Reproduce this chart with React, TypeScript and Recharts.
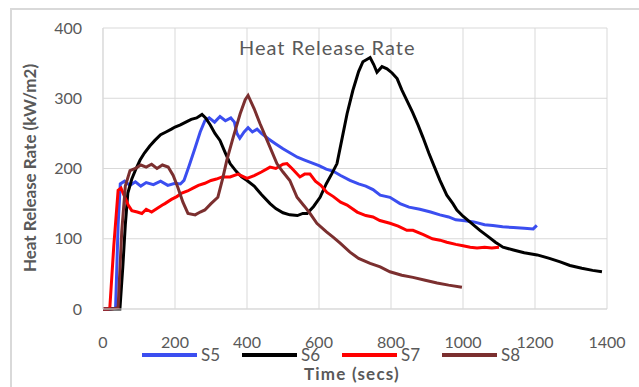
import React from "react";
import { LineChart, Line, XAxis, YAxis, CartesianGrid } from "recharts";

type P = { t: number; v: number };
const mk = (a: number[][]): P[] => a.map(([t, v]) => ({ t, v }));

const xTicks = [0, 200, 400, 600, 800, 1000, 1200, 1400];
const yTicks = [0, 100, 200, 300, 400];
const seriesNames = ["S5", "S6", "S7", "S8"];
const seriesColors = ["#3b4ef0", "#000000", "#ff0000", "#7b2f2f"];

const S5 = mk([[0,0],[20,0],[35,2],[42,120],[48,178],[60,182],[75,176],[90,181],[105,175],[120,180],[140,177],[160,182],[180,176],[200,179],[215,178],[225,183],[240,205],[255,228],[270,252],[283,268],[295,272],[310,266],[325,274],[340,268],[355,272],[365,266],[372,250],[380,243],[392,252],[403,258],[415,252],[428,256],[440,250],[460,242],[480,235],[500,228],[520,222],[540,216],[560,212],[580,208],[600,204],[620,199],[640,196],[660,190],[686,183],[710,178],[730,175],[750,170],[770,162],[797,159],[825,150],[850,145],[880,142],[910,138],[936,134],[960,131],[980,127],[1000,126],[1030,124],[1060,120],[1083,119],[1110,117],[1140,116],[1170,115],[1195,114],[1205,119]]);

const S6 = mk([[0,0],[30,0],[47,0],[55,60],[62,120],[69,165],[80,185],[92,200],[103,212],[115,222],[130,232],[144,240],[160,248],[175,252],[190,256],[200,259],[215,262],[230,266],[245,270],[260,272],[275,277],[285,272],[298,262],[311,250],[325,240],[340,222],[353,207],[370,196],[385,188],[400,183],[420,175],[440,163],[464,150],[480,143],[500,137],[519,134],[540,133],[555,136],[567,136],[585,146],[603,159],[620,178],[635,192],[650,207],[665,245],[678,278],[694,311],[710,338],[722,352],[742,358],[752,348],[761,337],[775,345],[789,342],[803,336],[817,328],[830,312],[844,297],[860,280],[875,262],[889,244],[905,222],[920,203],[936,183],[955,162],[972,150],[983,141],[1000,132],[1019,124],[1047,112],[1070,103],[1090,95],[1111,88],[1140,84],[1170,80],[1206,77],[1240,72],[1270,67],[1297,62],[1330,58],[1360,55],[1386,53]]);

const S7 = mk([[0,0],[15,0],[19,2],[30,90],[42,169],[50,172],[60,160],[70,148],[80,140],[95,138],[108,136],[120,142],[135,138],[150,143],[165,148],[172,150],[190,156],[205,160],[219,165],[235,168],[250,172],[265,176],[283,179],[300,183],[315,185],[331,188],[353,188],[375,192],[400,186],[420,190],[440,195],[464,202],[480,200],[500,206],[511,207],[525,200],[547,188],[560,192],[575,192],[590,182],[605,176],[622,166],[640,160],[660,152],[678,148],[706,138],[730,133],[750,131],[769,126],[797,122],[820,118],[844,112],[861,112],[890,106],[915,100],[936,98],[955,95],[980,92],[1000,90],[1020,88],[1039,87],[1060,88],[1080,87],[1100,88]]);

const S8 = mk([[0,0],[25,0],[42,2],[52,110],[62,175],[75,197],[90,200],[105,205],[120,202],[135,206],[150,200],[165,205],[181,202],[195,190],[208,173],[222,152],[236,136],[256,134],[270,138],[283,141],[300,150],[319,159],[332,185],[344,212],[362,245],[381,278],[395,298],[403,304],[420,285],[436,264],[460,235],[483,207],[500,195],[519,183],[539,159],[560,146],[575,136],[594,122],[620,110],[640,102],[658,94],[686,81],[710,72],[742,65],[770,60],[797,53],[830,48],[861,45],[895,41],[928,37],[960,34],[997,31]]);

const seriesData = [S5, S6, S7, S8];

const FONT = "Lato, 'Open Sans', sans-serif";
const GREY = "#595959";

export default function App() {
  return (
    <div style={{ position: "absolute", left: 0, top: 0, width: 639, height: 387, overflow: "hidden", background: "#fff" }}>
      <div style={{ position: "absolute", left: 10, top: 8, width: 700, height: 500, borderLeft: "2px solid #d9d9d9", borderTop: "2px solid #d9d9d9" }} />
      <LineChart width={639} height={387} margin={{ top: 28, right: 32, bottom: 48, left: 0 }}>
        <CartesianGrid stroke="#d9d9d9" strokeWidth={1} />
        <XAxis
          type="number"
          dataKey="t"
          domain={[0, 1400]}
          ticks={xTicks}
          height={30}
          tickSize={0}
          tickMargin={28}
          axisLine={{ stroke: "#d9d9d9" }}
          tickLine={false}
          tick={{ fill: GREY, fontSize: 16, fontFamily: FONT }}
          allowDataOverflow
        />
        <YAxis
          type="number"
          domain={[0, 400]}
          ticks={yTicks}
          width={103}
          tickSize={0}
          tickMargin={21}
          axisLine={{ stroke: "#d9d9d9" }}
          tickLine={false}
          tick={{ fill: GREY, fontSize: 16, fontFamily: FONT }}
        />
        {seriesData.map((d, i) => (
          <Line
            key={seriesNames[i]}
            data={d}
            dataKey="v"
            name={seriesNames[i]}
            stroke={seriesColors[i]}
            strokeWidth={3}
            dot={false}
            type="linear"
            isAnimationActive={false}
          />
        ))}
      </LineChart>
      <div style={{ position: "absolute", left: 0, width: 639, top: 0, pointerEvents: "none" }}>
        <div style={{ position: "absolute", left: 142, top: 347, display: "flex", fontFamily: FONT, fontSize: 17, color: GREY, lineHeight: "15px" }}>
          {seriesNames.map((n, i) => (
            <div key={n} style={{ width: 100, display: "flex", alignItems: "center" }}>
              <div style={{ width: 55, height: 4, background: seriesColors[i], marginRight: 4 }} />
              <span>{n}</span>
            </div>
          ))}
        </div>
        <div style={{ position: "absolute", left: 239, top: 35, fontFamily: FONT, fontSize: 20, letterSpacing: 1, color: GREY, whiteSpace: "nowrap" }}>Heat Release Rate</div>
        <div style={{ position: "absolute", left: 304, top: 364, fontFamily: FONT, fontSize: 17, fontWeight: 700, letterSpacing: 1.2, color: GREY, whiteSpace: "nowrap", lineHeight: "20px" }}>Time (secs)</div>
        <div style={{ position: "absolute", left: 29, top: 168, transform: "translate(-50%, -50%) rotate(-90deg)", fontFamily: FONT, fontSize: 17, fontWeight: 700, color: GREY, whiteSpace: "nowrap" }}>Heat Release Rate (kW/m2)</div>
      </div>
    </div>
  );
}
